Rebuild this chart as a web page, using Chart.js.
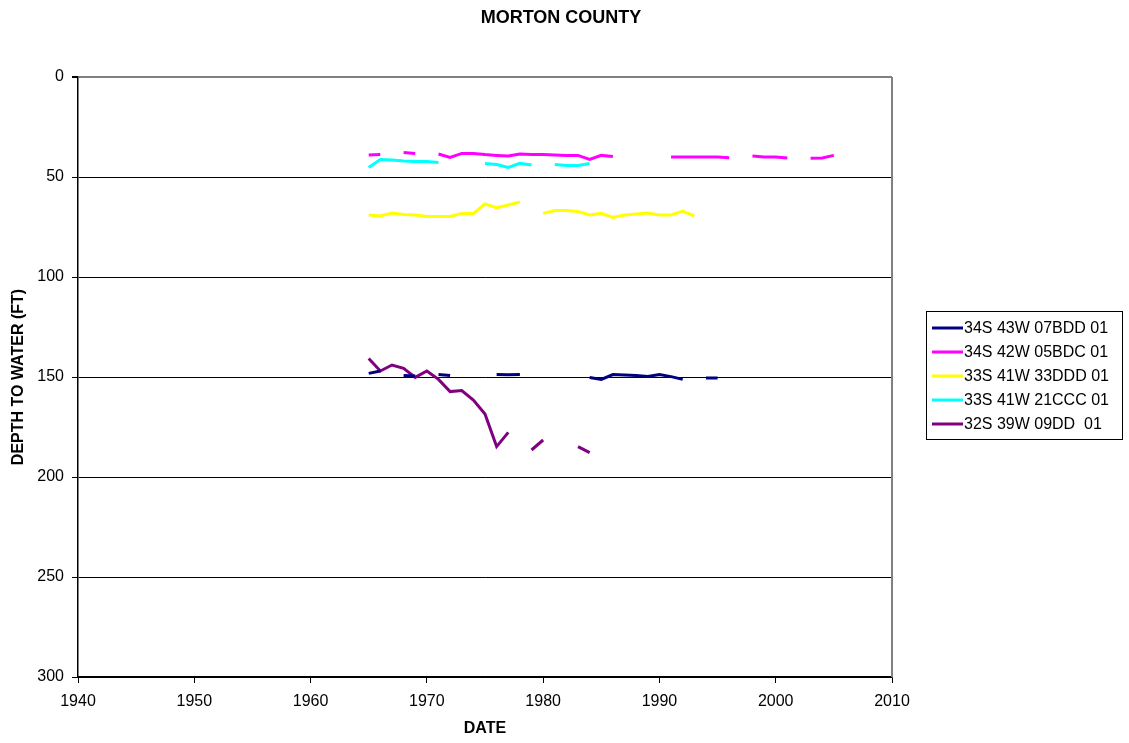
<!DOCTYPE html>
<html>
<head>
<meta charset="utf-8">
<title>MORTON COUNTY</title>
<script src="https://cdn.jsdelivr.net/npm/chart.js@4.4.7/dist/chart.umd.js"></script>
<style>
  html, body { margin: 0; padding: 0; background: #fff; }
  #wrap { width: 1129px; height: 743px; position: relative; }
</style>
</head>
<body>
<div id="wrap"><canvas id="chart"></canvas></div>
<script>
// 年份 (x)
const years = [1965, 1966, 1967, 1968, 1969, 1970, 1971, 1972, 1973, 1974,
  1975, 1976, 1977, 1978, 1979, 1980, 1981, 1982, 1983, 1984,
  1985, 1986, 1987, 1988, 1989, 1990, 1991, 1992, 1993, 1994,
  1995, 1996, 1997, 1998, 1999, 2000, 2001, 2002, 2003, 2004, 2005];

const seriesNames = ["34S 43W 07BDD 01", "34S 42W 05BDC 01", "33S 41W 33DDD 01",
  "33S 41W 21CCC 01", "32S 39W 09DD  01"];
const seriesColors = ["#000080", "#FF00FF", "#FFFF00", "#00FFFF", "#800080"];

// depth to water (ft), null = no reading
const well07BDD = [148.2, 147.0, null, 149.3, 149.5, null, 148.7, 149.2, null, null,
  null, 148.8, 148.9, 148.8, null, null, null, null, null, 150.2,
  151.2, 148.8, 149.0, 149.2, 149.7, 148.8, 149.8, 151.2, null, 150.5,
  150.5, null, null, null, null, null, null, null, null, null, null];
const well05BDC = [39.0, 38.7, null, 37.8, 38.3, null, 38.5, 40.2, 38.2, 38.2,
  38.8, 39.2, 39.5, 38.5, 38.7, 38.7, 39.0, 39.2, 39.2, 41.2,
  39.2, 39.8, null, null, null, null, 40.0, 40.0, 40.0, 40.0,
  40.0, 40.4, null, 39.5, 40.0, 40.0, 40.5, null, 40.6, 40.5, 39.2];
const well33DDD = [69.0, 69.5, 68.0, 68.8, 69.0, 69.7, 69.7, 69.7, 68.2, 68.2,
  63.5, 65.3, 64.0, 62.5, null, 68.2, 66.8, 66.8, 67.3, 69.0,
  68.2, 70.2, 69.0, 68.5, 68.0, 69.0, 69.0, 67.0, 69.5, null,
  null, null, null, null, null, null, null, null, null, null, null];
const well21CCC = [45.2, 41.2, 41.5, 42.0, 42.3, 42.2, 42.7, null, null, null,
  43.2, 43.8, 45.2, 43.2, 44.0, null, 43.7, 44.3, 44.2, 43.2,
  null, null, null, null, null, null, null, null, null, null,
  null, null, null, null, null, null, null, null, null, null, null];
const well09DD = [140.7, 147.0, 144.0, 145.7, 150.2, 147.0, 151.2, 157.3, 156.8, 161.5,
  168.5, 184.8, 177.7, null, 186.5, 181.5, null, null, 184.8, 187.8,
  null, null, null, null, null, null, null, null, null, null,
  null, null, null, null, null, null, null, null, null, null, null];

const xTicks = [1940, 1950, 1960, 1970, 1980, 1990, 2000, 2010];
const yTicks = [0, 50, 100, 150, 200, 250, 300];

const allSeries = [well07BDD, well05BDC, well33DDD, well21CCC, well09DD];

const datasets = allSeries.map((vals, i) => ({
  label: seriesNames[i],
  data: years.map((yr, j) => ({ x: yr, y: vals[j] })),
  borderColor: seriesColors[i],
  backgroundColor: seriesColors[i],
  borderWidth: 3,
  pointRadius: 0,
  tension: 0,
  spanGaps: false,
}));

const FONT = "'Liberation Sans', Arial, sans-serif";

// 标题、坐标轴标题、图例、右侧边框
const decorations = {
  id: "decorations",
  afterDraw(chart) {
    const ctx = chart.ctx;
    const area = chart.chartArea;
    ctx.save();

    // plot area border (top is the gridline, right drawn here)
    ctx.strokeStyle = "#808080";
    ctx.lineWidth = 2;
    ctx.beginPath();
    ctx.moveTo(area.right, area.top);
    ctx.lineTo(area.right, area.bottom);
    ctx.stroke();

    ctx.fillStyle = "#000";
    ctx.textAlign = "center";
    ctx.textBaseline = "middle";
    ctx.font = "bold 18px " + FONT;
    ctx.fillText("MORTON COUNTY", 561, 18);

    ctx.font = "bold 16px " + FONT;
    ctx.fillText("DATE", (area.left + area.right) / 2, 729);

    ctx.save();
    ctx.translate(19, (area.top + area.bottom) / 2);
    ctx.rotate(-Math.PI / 2);
    ctx.fillText("DEPTH TO WATER (FT)", 0, 0);
    ctx.restore();

    // legend
    const lx = 926, ly = 311, lw = 196, lh = 128;
    ctx.strokeStyle = "#000";
    ctx.lineWidth = 1;
    ctx.strokeRect(lx + 0.5, ly + 0.5, lw, lh);
    ctx.font = "16px " + FONT;
    ctx.textAlign = "left";
    chart.data.datasets.forEach((ds, i) => {
      const cy = 328 + i * 24;
      ctx.strokeStyle = ds.borderColor;
      ctx.lineWidth = 3;
      ctx.beginPath();
      ctx.moveTo(932, cy);
      ctx.lineTo(963, cy);
      ctx.stroke();
      ctx.fillStyle = "#000";
      ctx.fillText(ds.label, 964, cy + 1);
    });

    ctx.restore();
  },
};

const ctx = document.getElementById("chart").getContext("2d");
new Chart(ctx, {
  type: "line",
  data: { datasets: datasets },
  options: {
    responsive: true,
    maintainAspectRatio: false,
    animation: false,
    layout: { padding: { left: 0, top: 77, right: 237, bottom: 0 } },
    plugins: {
      legend: { display: false },
      title: { display: false },
      tooltip: { enabled: false },
    },
    scales: {
      x: {
        type: "linear",
        min: xTicks[0],
        max: xTicks[xTicks.length - 1],
        afterFit: (s) => { s.height = 66; },
        afterBuildTicks: (s) => { s.ticks = xTicks.map((v) => ({ value: v })); },
        ticks: {
          color: "#000",
          font: { size: 16, family: FONT },
          padding: 9,
          maxRotation: 0,
          callback: (v) => String(v),
        },
        grid: {
          drawOnChartArea: false,
          drawTicks: true,
          tickLength: 6,
          tickColor: "#000",
        },
        border: { color: "#000", width: 1.5 },
      },
      y: {
        type: "linear",
        reverse: true,
        min: yTicks[0],
        max: yTicks[yTicks.length - 1],
        afterFit: (s) => { s.width = 78; },
        afterBuildTicks: (s) => { s.ticks = yTicks.map((v) => ({ value: v })); },
        ticks: {
          color: "#000",
          font: { size: 16, family: FONT },
          padding: 8,
        },
        grid: {
          color: (c) => (c.tick && c.tick.value === 0 ? "#808080" : "#000"),
          lineWidth: (c) => (c.tick && c.tick.value === 0 ? 2 : 1),
          tickLength: 6,
          tickColor: "#000",
        },
        border: { color: "#000", width: 1.5 },
      },
    },
  },
  plugins: [decorations],
});
</script>
</body>
</html>
